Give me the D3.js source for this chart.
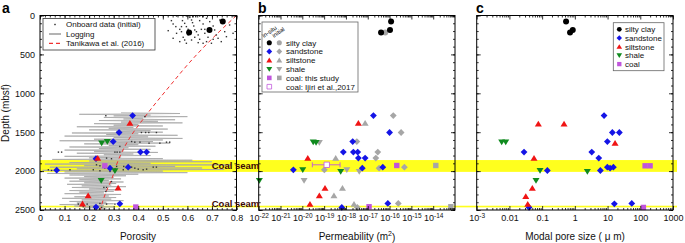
<!DOCTYPE html>
<html><head><meta charset="utf-8">
<script src="https://cdn.jsdelivr.net/npm/d3@7"></script>
<style>body{margin:0;background:#fff}svg{display:block}</style>
</head><body>
<script>
// ---------------- DATA ----------------
// Panel a: onboard porosity data (porosity, depth mbsf)
const onboardPor = [0.535,0.542,0.553,0.569,0.576,0.580,0.589,0.596,0.603,0.610,0.617,0.621,0.626,0.634,0.637,0.644,0.650,0.657,0.664,0.671,0.678,0.684,0.691,0.705,0.711,0.718,0.725,0.732,0.738,0.752,0.759,0.772,0.786,0.542,0.569,0.596,0.617,0.644,0.664,0.678,0.698,0.583,0.603,0.630,0.650,0.556,0.522,0.463,0.589,0.705,0.556,0.596,0.650,0.671,0.630,0.576,0.610,0.623,0.664,
  0.268,0.427,0.413,0.430,0.443,0.474,0.386,0.407,0.444,0.488,0.515,0.528,0.373,0.325,0.075,0.088,0.305,0.314,0.325,0.271,0.291,0.230,0.244,0.257,0.312,0.341,0.373,0.386,0.400,0.434,0.461,0.474,0.034,0.047,0.122,0.217,0.244,0.285,0.305,0.339,0.420,0.264,0.271,0.260,0.156,0.192,0.244,0.271,0.305,0.230,0.251,0.176,0.291,0.268];
const onboardDepth = [66,109,143,178,208,66,101,143,178,24,58,92,135,15,208,250,66,178,109,229,36,280,79,135,186,250,293,58,336,208,272,122,229,293,336,357,315,349,357,336,357,280,250,280,306,229,195,315,315,306,6,6,6,178,186,143,6,15,15,
  1288,1300,1504,1504,1504,1504,1628,1628,1641,1641,1628,1628,1620,1683,1756,1756,1756,1756,1756,1833,1841,1919,1932,1949,1940,1940,1949,1962,1975,1975,1949,1949,1983,1992,1983,1983,1996,2005,1975,1983,1983,1962,2210,2210,2424,2424,2416,2424,2424,2467,2467,2458,2134,2262];

// Logging porosity (depth step 10 m starting at 1250 m)
const logStartDepth = 1250;
const logPor = [
  0.33,0.57,0.16,0.45,0.30,0.60,0.26,0.42,0.34,0.55,
  0.24,0.48,0.33,0.58,0.22,0.40,0.30,0.50,0.15,0.38,
  0.28,0.52,0.20,0.45,0.31,0.50,0.13,0.40,0.27,0.56,
  0.10,0.44,0.30,0.58,0.22,0.50,0.08,0.46,0.26,0.53,
  0.18,0.40,0.28,0.47,0.12,0.36,0.24,0.45,0.10,0.34,
  0.22,0.48,0.15,0.38,0.26,0.45,0.10,0.33,0.20,0.50,
  0.05,0.62,0.20,0.70,0.12,0.45,0.02,0.78,0.18,0.55,
  0.04,0.66,0.15,0.75,0.01,0.50,0.10,0.60,0.03,0.40,
  0.12,0.35,0.18,0.30,0.10,0.33,0.16,0.28,0.12,0.34,
  0.18,0.31,0.11,0.29,0.17,0.35,0.13,0.27,0.20,0.32,
  0.12,0.30,0.16,0.26,0.10,0.33,0.19,0.28,0.14,0.31,
  0.09,0.29,0.17,0.34,0.12,0.27,0.15,0.30,0.08,0.26,
  0.14,0.30,0.18,0.27];

// Tanikawa et al. (2016) trend
const tanDepth = [0,300,600,900,1250,1600,1850,2110,2300,2500];
const tanPor   = [0.80,0.70,0.61,0.53,0.44,0.36,0.32,0.291,0.265,0.245];

// In-situ samples, panel a (porosity, depth)
const aSiltyClay = [[0.744,77],[0.690,186],[0.607,218]];
const aSandstone = [[0.377,1286],[0.322,1504],[0.298,1620],[0.409,1756],[0.434,1756],[0.228,1840],[0.359,1949],[0.285,1962],[0.068,1988],[0.325,2420],[0.228,2462]];
const aSiltstone = [[0.366,1384],[0.235,1833],[0.318,2215],[0.196,2317],[0.173,2420]];
const aShale     = [[0.251,1641],[0.274,1620],[0.305,1996],[0.249,2121]];
const aCoal      = [[0.264,1932],[0.390,2462]];

// Panel b: log10 permeability (m2), depth
const bSiltyClay = [[-15.93,77],[-15.98,186],[-16.39,218]];
const bSandstone = [[-16.74,1286],[-16.0,1504],[-17.69,1620],[-18.12,1756],[-17.66,1756],[-17.46,1756],[-17.43,1833],[-17.12,1833],[-20.41,1983],[-17.25,1962],[-16.31,1949],[-16.08,2416],[-18.19,2467]];
const bSiltstone = [[-17.43,1384],[-19.75,1833],[-18.96,2219],[-19.22,2317],[-19.65,2424]];
const bShale     = [[-19.5,1627],[-19.37,1634],[-19.98,1983],[-18.24,2005],[-21.97,2121]];
const bCoal      = [[-15.67,1928],[-16.94,2458]];
const bIjiri     = [[-18.88,1919,-19.54,-18.27]];
const bInitSiltyClay = [[-16.2,218]];
const bInitSandstone = [[-15.83,1286],[-15.47,1504],[-17.5,1620],[-16.54,1756],[-16.63,1833],[-18.99,1983],[-16.48,1962],[-15.32,1949],[-15.6,2416],[-17.48,2467]];
const bInitSiltstone = [[-17.12,1384],[-18.47,1833],[-18.16,2219],[-18.55,2317],[-17.63,2424]];
const bInitShale     = [[-19.22,1634],[-17.96,1983],[-17.39,2005],[-19.92,2121]];
const bInitCoal      = [[-13.88,1928],[-13.19,2458]];

// Panel c: log10 modal pore size (um), depth
const cSiltyClay = [[-0.269,77],[-0.064,186],[-0.147,218]];
const cSandstone = [[0.893,1286],[1.147,1504],[1.361,1504],[0.994,1620],[-1.553,1756],[0.517,1756],[0.731,1833],[-0.84,1992],[0.78,1992],[0.994,1950],[1.077,1962],[1.178,1950],[1.208,2420],[1.74,2416],[-1.40,2467]];
const cSiltstone = [[-1.116,1393],[-0.33,1393],[1.229,1641],[-1.248,1833],[-1.30,2219],[-1.50,2326],[-1.44,2424]];
const cShale     = [[-2.236,1627],[-2.113,1627],[-1.064,1992],[0.382,2005],[-1.187,2121]];
const cCoal      = [[2.147,1932],[2.30,1932],[2.095,2467]];

const coalSeams = [[1858,2010],[2445,2466]];
const porTicks = [0,0.1,0.2,0.3,0.4,0.5,0.6,0.7,0.8];
const depthTicks = [0,500,1000,1500,2000,2500];
const permExps = [-22,-21,-20,-19,-18,-17,-16,-15,-14,-13];
const poreTicks = [0.001,0.01,0.1,1,10,100,1000];
const poreLabels = ["10^-3","0.01","0.1","1","10","100","1000"];

// ---------------- CHART ----------------
const W=685,H=243;
const svg=d3.select("body").append("svg").attr("width",W).attr("height",H)
  .style("font-family","'Liberation Sans',Arial,Helvetica,sans-serif");
const y=d3.scaleLinear().domain([0,2500]).range([15.5,210]);
const xA=d3.scaleLinear().domain([0,0.8]).range([40,236.5]);
const xB=d3.scaleLog().domain([1e-22,1e-13]).range([258.7,455]);
const xC=d3.scaleLog().domain([1e-3,1e3]).range([476.7,673]);

const COL={silty:"#000",sand:"#1414e6",silt:"#f01414",shale:"#0f8a1e",coal:"#c055dc",gray:"#a6a6a6"};

// custom symbol shapes
const diamond={draw(c,s){const r=3.4;c.moveTo(0,-r);c.lineTo(r,0);c.lineTo(0,r);c.lineTo(-r,0);c.closePath();}};
const triUp={draw(c,s){c.moveTo(0,-3.2);c.lineTo(3.5,2.6);c.lineTo(-3.5,2.6);c.closePath();}};
const triDown={draw(c,s){c.moveTo(0,3.2);c.lineTo(3.5,-2.6);c.lineTo(-3.5,-2.6);c.closePath();}};
const square={draw(c,s){c.rect(-2.7,-2.7,5.4,5.4);}};
const circle={draw(c,s){c.moveTo(3,0);c.arc(0,0,3,0,2*Math.PI);}};
const SYM={silty:circle,sand:diamond,silt:triUp,shale:triDown,coal:square};

// yellow coal seam bands (span all panels)
svg.append("g").selectAll("rect").data(coalSeams).join("rect")
  .attr("x",xA.range()[0]).attr("width",xC.range()[1]+4-xA.range()[0])
  .attr("y",d=>y(d[0])).attr("height",d=>y(d[1])-y(d[0])).attr("fill","#ffff1e");

// logging
const logData=logPor.map((p,i)=>({d:logStartDepth+i*10,p}));
svg.append("path").datum(logData).attr("fill","none").attr("stroke","#a8a8a8").attr("stroke-width",0.8)
  .attr("d",d3.line().x(d=>xA(d.p)).y(d=>y(d.d)));

// Tanikawa trend
svg.append("path").datum(tanDepth.map((d,i)=>({d,p:tanPor[i]}))).attr("fill","none")
  .attr("stroke","#f03030").attr("stroke-width",1).attr("stroke-dasharray","4,3")
  .attr("d",d3.line().curve(d3.curveMonotoneY).x(d=>xA(d.p)).y(d=>y(d.d)));

// onboard dots
svg.append("g").selectAll("rect").data(onboardPor.map((p,i)=>[p,onboardDepth[i]])).join("rect")
  .attr("x",d=>xA(d[0])-0.7).attr("y",d=>y(d[1])-0.7).attr("width",1.4).attr("height",1.4).attr("fill","#333");

function plot(data,xf,type,fill,stroke){
  svg.append("g").selectAll("path").data(data).join("path")
    .attr("transform",d=>`translate(${xf(d[0])},${y(d[1])})`)
    .attr("d",d3.symbol().type(SYM[type]))
    .attr("fill",fill).attr("stroke",stroke||"none").attr("stroke-width",0.8);
}
// panel a
plot(aSandstone,xA,"sand",COL.sand);
plot(aSiltstone,xA,"silt",COL.silt);
plot(aShale,xA,"shale",COL.shale);
plot(aCoal,xA,"coal",COL.coal);
plot(aSiltyClay,xA,"silty",COL.silty);
// panel b
const pb=v=>xB(Math.pow(10,v));
plot(bInitSiltyClay,pb,"silty",COL.gray);
plot(bInitSandstone,pb,"sand",COL.gray);
plot(bInitSiltstone,pb,"silt",COL.gray);
plot(bInitShale,pb,"shale",COL.gray);
plot(bInitCoal,pb,"coal",COL.gray);
plot(bSandstone,pb,"sand",COL.sand);
plot(bSiltstone,pb,"silt",COL.silt);
plot(bShale,pb,"shale",COL.shale);
plot(bCoal,pb,"coal",COL.coal);
plot(bSiltyClay,pb,"silty",COL.silty);
// Ijiri with error bar
const ij=svg.append("g");
bIjiri.forEach(d=>{
  const yy=y(d[1]);
  ij.append("line").attr("x1",pb(d[2])).attr("x2",pb(d[3])).attr("y1",yy).attr("y2",yy).attr("stroke",COL.coal).attr("stroke-width",0.9);
  [d[2],d[3]].forEach(v=>ij.append("line").attr("x1",pb(v)).attr("x2",pb(v)).attr("y1",yy-2.5).attr("y2",yy+2.5).attr("stroke",COL.coal).attr("stroke-width",0.9));
});
plot(bIjiri,pb,"coal","#fff",COL.coal);
// panel c
const pc=v=>xC(Math.pow(10,v));
plot(cSandstone,pc,"sand",COL.sand);
plot(cSiltstone,pc,"silt",COL.silt);
plot(cShale,pc,"shale",COL.shale);
plot(cCoal,pc,"coal",COL.coal);
plot(cSiltyClay,pc,"silty",COL.silty);

// ---------- frames & axes ----------
const noLab=()=>"";
function frame(x,majors,minors,fmt,yLabels){
  const [x0,x1]=x.range(),[y0,y1]=y.range();
  const g=svg.append("g");
  const clean=s=>{s.select(".domain").remove();s.selectAll("line").attr("stroke-width",0.8);};
  const bottom=g.append("g").attr("transform",`translate(0,${y1})`)
    .call(d3.axisBottom(x).tickValues(majors).tickSize(-4).tickPadding(5).tickFormat(fmt)).call(clean);
  g.append("g").attr("transform",`translate(0,${y1})`)
    .call(d3.axisBottom(x).tickValues(minors).tickSize(-2).tickFormat(noLab)).call(clean);
  g.append("g").attr("transform",`translate(0,${y0})`)
    .call(d3.axisTop(x).tickValues(majors).tickSize(-4).tickFormat(noLab)).call(clean);
  g.append("g").attr("transform",`translate(0,${y0})`)
    .call(d3.axisTop(x).tickValues(minors).tickSize(-2).tickFormat(noLab)).call(clean);
  const yMin=d3.range(0,2501,100);
  g.append("g").attr("transform",`translate(${x0},0)`)
    .call(d3.axisLeft(y).tickValues(depthTicks).tickSize(-4).tickPadding(5).tickFormat(yLabels?d3.format("d"):noLab)).call(clean);
  g.append("g").attr("transform",`translate(${x0},0)`)
    .call(d3.axisLeft(y).tickValues(yMin).tickSize(-2).tickFormat(noLab)).call(clean);
  g.append("g").attr("transform",`translate(${x1},0)`)
    .call(d3.axisRight(y).tickValues(depthTicks).tickSize(-4).tickFormat(noLab)).call(clean);
  g.append("g").attr("transform",`translate(${x1},0)`)
    .call(d3.axisRight(y).tickValues(yMin).tickSize(-2).tickFormat(noLab)).call(clean);
  g.selectAll("text").filter(function(){return this.textContent==="";}).remove();
  g.selectAll("text").attr("font-size","9px").attr("font-family","'Liberation Sans',Arial,sans-serif").attr("fill","#111");
  g.append("rect").attr("x",x0).attr("y",y0).attr("width",x1-x0).attr("height",y1-y0)
    .attr("fill","none").attr("stroke","#000").attr("stroke-width",1);
  return bottom;
}
function supLabels(bottom,labelFn){
  bottom.selectAll(".tick text").each(function(d){
    const lab=labelFn(d); if(!lab) return;
    const t=d3.select(this);
    t.text(null);
    if(lab.includes("^")){
      const [b,e]=lab.split("^");
      t.append("tspan").text(b);
      t.append("tspan").attr("dy","-0.5em").attr("font-size","6.5px").text(e);
    } else t.text(lab);
  });
}
frame(xA,porTicks,d3.range(0,41).map(i=>i*0.02),d=>d===0?"0":d3.format(".1f")(d),true);
const permMaj=permExps.map(e=>Math.pow(10,e));
const permMin=[];permExps.slice(0,-1).forEach(e=>{for(let m=2;m<10;m++)permMin.push(m*Math.pow(10,e));});
const fb=frame(xB,permMaj.slice(0,-1),permMin,()=>"x",false);
supLabels(fb,d=>{const e=Math.round(Math.log10(d));return "10^"+(e<0?"-"+(-e):e);});
const poreMin=[];[-3,-2,-1,0,1,2].forEach(e=>{for(let m=2;m<10;m++)poreMin.push(m*Math.pow(10,e));});
const fc=frame(xC,poreTicks,poreMin,()=>"x",false);
supLabels(fc,d=>poreLabels[poreTicks.indexOf(d)]);

// axis titles
const title=(x,yy,txt,rot)=>svg.append("text").attr("x",x).attr("y",yy).attr("text-anchor","middle")
  .attr("font-size","10px").attr("fill","#111").attr("transform",rot?`rotate(-90,${x},${yy})`:null).text(txt);
title(138,239.5,"Porosity");
const pt=title(357,239.5,"Permeability (m");
pt.append("tspan").attr("dy","-0.45em").attr("font-size","7px").text("2");
pt.append("tspan").attr("dy","0.45em").text(")");
title(575,239.5,"Modal pore size ( μ m)");
title(9,113,"Depth (mbsf)",true);

// panel letters
[["a",2],["b",258],["c",476]].forEach(([l,x])=>svg.append("text").attr("x",x).attr("y",13)
  .attr("font-size","14px").attr("font-weight","bold").text(l));

// coal seam labels
[169.3,206.8].forEach(yy=>svg.append("text").attr("x",235.5).attr("y",yy)
  .attr("text-anchor","middle").attr("font-size","9.5px").attr("font-weight","bold")
  .attr("fill","#3d0808").text("Coal seam"));

// legend a
const la=svg.append("g");
la.append("rect").attr("x",43).attr("y",18.5).attr("width",112).attr("height",31.5).attr("fill","#fff").attr("stroke","#333").attr("stroke-width",0.8);
la.append("rect").attr("x",54.3).attr("y",23.8).attr("width",1.4).attr("height",1.4).attr("fill","#222");
la.append("line").attr("x1",49).attr("x2",61).attr("y1",34).attr("y2",34).attr("stroke","#9a9a9a").attr("stroke-width",1.5);
la.append("line").attr("x1",49).attr("x2",61).attr("y1",43.4).attr("y2",43.4).attr("stroke","#f03030").attr("stroke-width",1.2).attr("stroke-dasharray","4,3");
["Onboard data (initial)","Logging","Tanikawa et al. (2016)"].forEach((t,i)=>
  la.append("text").attr("x",66).attr("y",[27.3,36.9,46.4][i]).attr("font-size","8px").attr("fill","#111").text(t));

// legend b
const lb=svg.append("g");
lb.append("rect").attr("x",262).attr("y",22).attr("width",96).attr("height",70).attr("fill","#fff").attr("stroke","#666").attr("stroke-width",0.8);
lb.append("text").attr("transform","translate(264,38) rotate(-35)").attr("font-size","6px").text("in-situ");
lb.append("text").attr("transform","translate(274,38) rotate(-35)").attr("font-size","6px").text("initial");
const legB=[["silty","silty clay",true],["sand","sandstone",true],["silt","siltstone",true],["shale","shale",true],["coal","coal: this study",true],["coal","coal: Ijiri et al.,2017",false]];
legB.forEach(([k,t,hasInit],i)=>{
  const yy=42.7+8.8*i;
  const open=i===5;
  lb.append("path").attr("transform",`translate(269.3,${yy}) scale(0.85)`).attr("d",d3.symbol().type(SYM[k]))
    .attr("fill",open?"#fff":COL[k]).attr("stroke",open?COL.coal:"none").attr("stroke-width",0.9);
  if(hasInit) lb.append("path").attr("transform",`translate(279.3,${yy}) scale(0.85)`).attr("d",d3.symbol().type(SYM[k])).attr("fill",COL.gray);
  lb.append("text").attr("x",286).attr("y",yy+2.8).attr("font-size","8px").attr("fill","#111").text(t);
});

// legend c
const lc=svg.append("g");
lc.append("rect").attr("x",613.3).attr("y",22.7).attr("width",50.7).attr("height",48).attr("fill","#fff").attr("stroke","#666").attr("stroke-width",0.8);
[["silty","silty clay"],["sand","sandstone"],["silt","siltstone"],["shale","shale"],["coal","coal"]].forEach(([k,t],i)=>{
  const yy=29.3+8.7*i;
  lc.append("path").attr("transform",`translate(619.3,${yy}) scale(0.8)`).attr("d",d3.symbol().type(SYM[k])).attr("fill",COL[k]);
  lc.append("text").attr("x",625).attr("y",yy+2.8).attr("font-size","8px").attr("fill","#111").text(t);
});
</script>
</body></html>
